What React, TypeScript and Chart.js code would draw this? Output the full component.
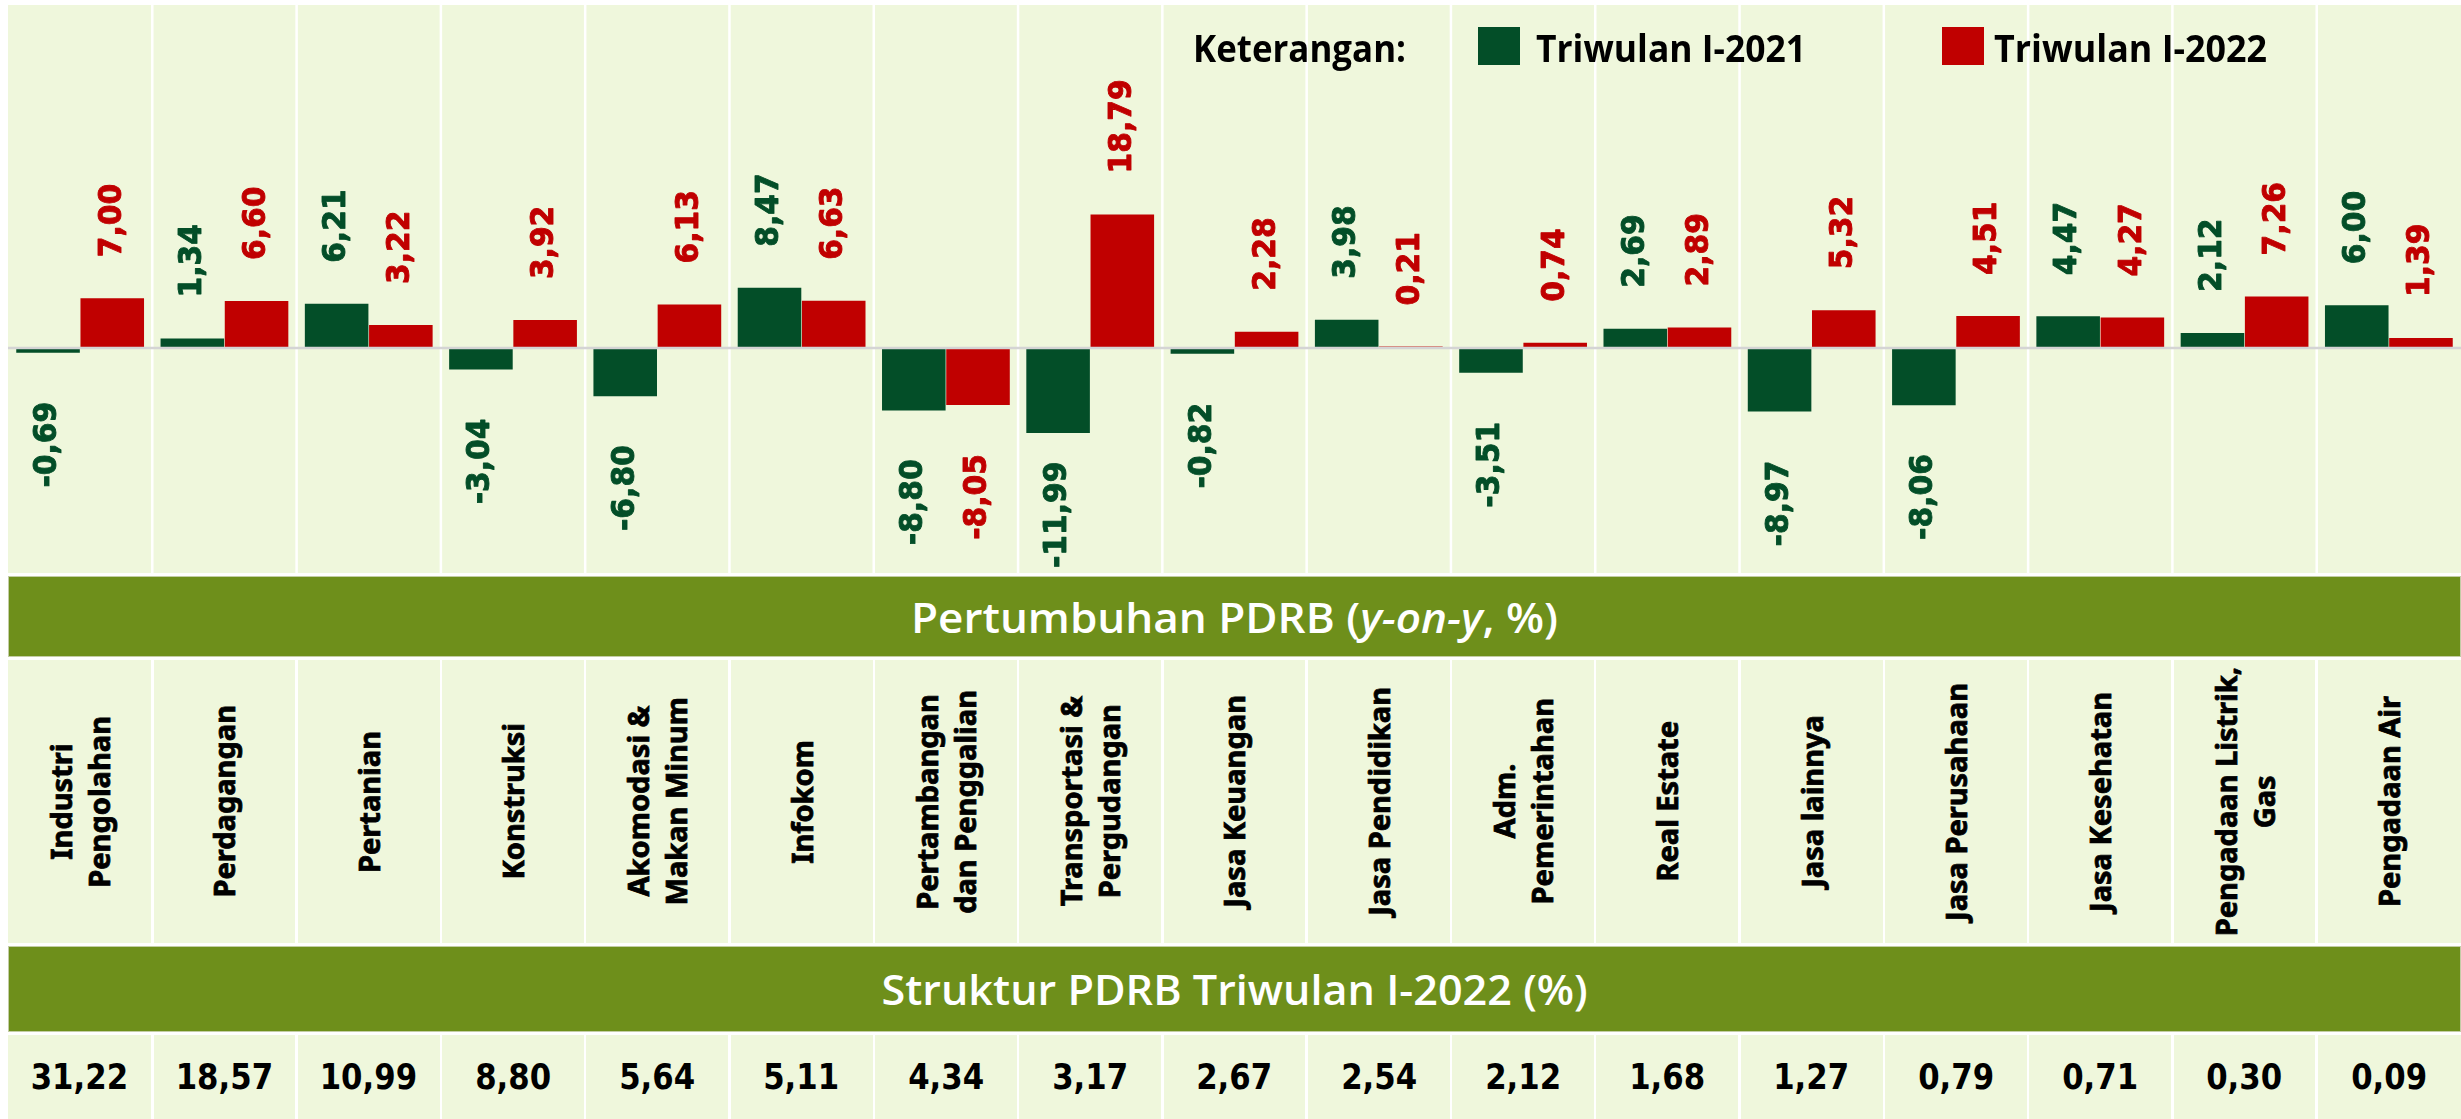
import React, { useEffect, useLayoutEffect, useRef } from "react";
import { Chart, registerables } from "chart.js";

Chart.register(...registerables);

// ---------- DATA ----------
const categories: string[][] = [
  ["Industri", "Pengolahan"],
  ["Perdagangan"],
  ["Pertanian"],
  ["Konstruksi"],
  ["Akomodasi &", "Makan Minum"],
  ["Infokom"],
  ["Pertambangan", "dan Penggalian"],
  ["Transportasi &", "Pergudangan"],
  ["Jasa Keuangan"],
  ["Jasa Pendidikan"],
  ["Adm.", "Pemerintahan"],
  ["Real Estate"],
  ["Jasa lainnya"],
  ["Jasa Perusahaan"],
  ["Jasa Kesehatan"],
  ["Pengadaan Listrik,", "Gas"],
  ["Pengadaan Air"],
];

const growth2021 = [-0.69, 1.34, 6.21, -3.04, -6.8, 8.47, -8.8, -11.99, -0.82, 3.98, -3.51, 2.69, -8.97, -8.06, 4.47, 2.12, 6.0];
const growth2022 = [7.0, 6.6, 3.22, 3.92, 6.13, 6.63, -8.05, 18.79, 2.28, 0.21, 0.74, 2.89, 5.32, 4.51, 4.27, 7.26, 1.39];
const struktur = [31.22, 18.57, 10.99, 8.8, 5.64, 5.11, 4.34, 3.17, 2.67, 2.54, 2.12, 1.68, 1.27, 0.79, 0.71, 0.3, 0.09];

const seriesLabels = ["Triwulan I-2021", "Triwulan I-2022"];
const legendTitle = "Keterangan:";
const growthTitle = ["Pertumbuhan PDRB (", "y-on-y", ", %)"];
const strukturTitle = "Struktur PDRB Triwulan I-2022 (%)";

// ---------- STYLE ----------
const W = 2453;
const PANEL_H = 568;
const COL_W = W / 17;
const LIGHT = "#EFF7DC";
const OLIVE = "#6E8F1B";
const GREEN = "#034E28";
const RED = "#C00000";

const fmt = (v: number) => v.toFixed(2).replace(".", ",");

function fitText(ctx: CanvasRenderingContext2D, text: string, x: number, y: number, width: number) {
  const m = ctx.measureText(text).width;
  ctx.save();
  ctx.translate(x, y);
  ctx.scale(width / m, 1);
  ctx.textAlign = "left";
  ctx.textBaseline = "alphabetic";
  ctx.fillText(text, 0, 0);
  ctx.restore();
}

const LABEL_STRETCH = 0.93;

const decorPlugin = {
  id: "decor",
  beforeDraw(chart: any) {
    const { ctx, chartArea } = chart;
    const { left, top, right, bottom } = chartArea;
    ctx.save();
    ctx.fillStyle = LIGHT;
    ctx.fillRect(left, top, right - left, bottom - top);
    const xs = chart.scales.x;
    ctx.fillStyle = "#FFFFFF";
    for (let i = 1; i < categories.length; i++) {
      const bx = (xs.getPixelForValue(i - 1) + xs.getPixelForValue(i)) / 2;
      ctx.fillRect(bx - 1.25, top, 2.5, bottom - top);
    }
    ctx.restore();
  },
  afterDatasetsDraw(chart: any) {
    const { ctx, chartArea } = chart;
    const y0 = chart.scales.y.getPixelForValue(0);
    ctx.save();
    ctx.strokeStyle = "#D4D4D4";
    ctx.lineWidth = 2.5;
    ctx.beginPath();
    ctx.moveTo(chartArea.left, y0);
    ctx.lineTo(chartArea.right, y0);
    ctx.stroke();

    ctx.font = 'bold 32px "DejaVu Sans"';
    ctx.textBaseline = "middle";
    ctx.lineJoin = "round";
    chart.data.datasets.forEach((ds: any, d: number) => {
      const meta = chart.getDatasetMeta(d);
      meta.data.forEach((bar: any, i: number) => {
        const v = ds.data[i] as number;
        const txt = fmt(v);
        const len = ctx.measureText(txt).width * LABEL_STRETCH;
        ctx.save();
        ctx.fillStyle = ds.backgroundColor;
        ctx.strokeStyle = ds.backgroundColor;
        ctx.lineWidth = 0.9;
        if (v >= 0) {
          ctx.translate(bar.x, bar.y - 41);
        } else {
          const end = Math.min(bar.y + 49 + len, chartArea.bottom - 5);
          ctx.translate(bar.x, end);
        }
        ctx.rotate(-Math.PI / 2);
        ctx.scale(LABEL_STRETCH, 1);
        ctx.textAlign = "left";
        ctx.fillText(txt, 0, 0);
        ctx.strokeText(txt, 0, 0);
        ctx.restore();
      });
    });
    ctx.restore();
  },
  afterDraw(chart: any) {
    const { ctx } = chart;
    const ds = chart.data.datasets;
    ctx.save();
    ctx.fillStyle = "#000";
    ctx.font = 'bold 38px "Open Sans"';
    fitText(ctx, legendTitle, 1185, 57, 213);
    ctx.fillStyle = ds[0].backgroundColor;
    ctx.fillRect(1470, 22, 42, 38);
    ctx.fillStyle = "#000";
    fitText(ctx, ds[0].label, 1528, 57, 270);
    ctx.fillStyle = ds[1].backgroundColor;
    ctx.fillRect(1934, 22, 42, 38);
    ctx.fillStyle = "#000";
    fitText(ctx, ds[1].label, 1986, 57, 273);
    ctx.restore();
  },
};

function Fit({ width, style, children }: { width: number; style?: any; children: any }) {
  const ref = useRef<HTMLSpanElement>(null);
  useLayoutEffect(() => {
    const apply = () => {
      const el = ref.current;
      if (!el) return;
      el.style.transform = "none";
      const w = el.offsetWidth;
      if (w > 0) el.style.transform = `scaleX(${width / w})`;
    };
    apply();
    (document as any).fonts?.ready?.then(apply);
  }, [width]);
  return (
    <span
      ref={ref}
      style={{ display: "inline-block", whiteSpace: "nowrap", transformOrigin: "center", ...style }}
    >
      {children}
    </span>
  );
}

function Band({ top, height, children }: { top: number; height: number; children: any }) {
  return (
    <div
      style={{
        position: "absolute",
        left: 0,
        top,
        width: W,
        height,
        boxSizing: "border-box",
        background: OLIVE,
        border: "1.5px solid #C3CDA5",
        display: "flex",
        alignItems: "center",
        justifyContent: "center",
        color: "#FFFFFF",
      }}
    >
      {children}
    </div>
  );
}

function CellRow({ top, height, render }: { top: number; height: number; render: (i: number) => any }) {
  return (
    <>
      {categories.map((_, i) => {
        const l = i === 0 ? 0 : i * COL_W + 1.25;
        const r = i === categories.length - 1 ? W : (i + 1) * COL_W - 1.25;
        return (
          <div
            key={i}
            style={{
              position: "absolute",
              left: l,
              top,
              width: r - l,
              height,
              background: LIGHT,
              display: "flex",
              alignItems: "center",
              justifyContent: "center",
              overflow: "visible",
            }}
          >
            {render(i)}
          </div>
        );
      })}
    </>
  );
}

export default function App() {
  const canvasRef = useRef<HTMLCanvasElement>(null);

  useEffect(() => {
    if (!canvasRef.current) return;
    const chart = new Chart(canvasRef.current, {
      type: "bar",
      data: {
        labels: categories.map((c) => c.join(" ")),
        datasets: [
          {
            label: seriesLabels[0],
            data: growth2021,
            backgroundColor: GREEN,
            categoryPercentage: 0.89,
            barPercentage: 0.99,
          },
          {
            label: seriesLabels[1],
            data: growth2022,
            backgroundColor: RED,
            categoryPercentage: 0.89,
            barPercentage: 0.99,
          },
        ],
      },
      options: {
        animation: false,
        responsive: false,
        devicePixelRatio: 1,
        layout: { padding: 0 },
        plugins: { legend: { display: false }, tooltip: { enabled: false } },
        scales: {
          x: { display: false },
          y: { display: false, min: -31.7, max: 48.3 },
        },
      },
      plugins: [decorPlugin],
    } as any);
    return () => chart.destroy();
  }, []);

  return (
    <div
      style={{
        position: "absolute",
        left: 8,
        top: 5,
        width: W,
        height: 1114,
        background: "#FFFFFF",
        overflow: "hidden",
      }}
    >
      <div style={{ position: "absolute", left: 0, top: 0, width: W, height: PANEL_H }}>
        <canvas ref={canvasRef} width={W} height={PANEL_H} style={{ display: "block" }} />
      </div>

      <Band top={571} height={81}>
        <Fit width={647} style={{ fontFamily: '"Open Sans"', fontWeight: 600, fontSize: 42, lineHeight: "50px" }}>
          {growthTitle[0]}
          <i>{growthTitle[1]}</i>
          {growthTitle[2]}
        </Fit>
      </Band>

      <CellRow
        top={655}
        height={283}
        render={(i) => (
          <div
            style={{
              writingMode: "vertical-rl",
              transform: "rotate(180deg)",
              fontFamily: '"Noto Sans"',
              fontWeight: 700,
              fontSize: 29,
              lineHeight: "38px",
              textAlign: "center",
              whiteSpace: "nowrap",
              color: "#000",
              WebkitTextStroke: "0.8px #000",
            }}
          >
            {categories[i].map((line, k) => (
              <React.Fragment key={k}>
                {line}
                {k < categories[i].length - 1 ? <br /> : null}
              </React.Fragment>
            ))}
          </div>
        )}
      />

      <Band top={941} height={86}>
        <Fit width={706} style={{ fontFamily: '"Open Sans"', fontWeight: 600, fontSize: 42, lineHeight: "50px" }}>
          {strukturTitle}
        </Fit>
      </Band>

      <CellRow
        top={1030}
        height={84}
        render={(i) => (
          <span
            style={{
              display: "inline-block",
              fontFamily: '"DejaVu Sans"',
              fontWeight: 700,
              fontSize: 35,
              transform: "scaleX(0.88)",
              color: "#000",
              whiteSpace: "nowrap",
            }}
          >
            {fmt(struktur[i])}
          </span>
        )}
      />
    </div>
  );
}
